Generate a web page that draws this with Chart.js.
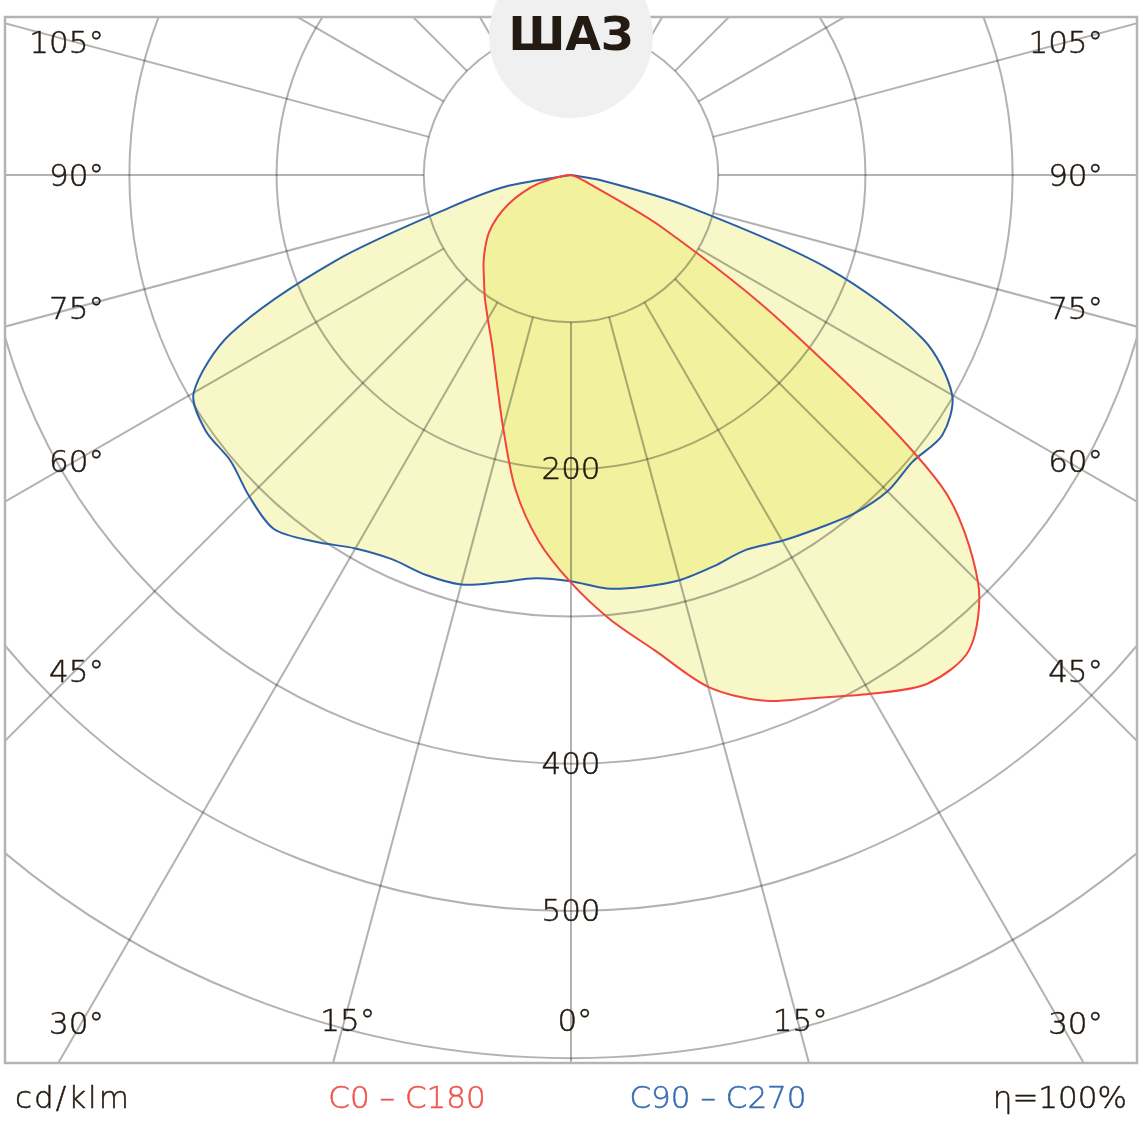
<!DOCTYPE html>
<html><head><meta charset="utf-8">
<script src="https://cdn.jsdelivr.net/npm/chart.js@4.4.1/dist/chart.umd.min.js"></script>
<style>html,body{margin:0;padding:0;background:#fff;}canvas{display:block;}</style>
</head><body>
<canvas id="c" width="1143" height="1143"></canvas>
<script>
// ---- data (gamma in degrees from nadir; negative = left half) ----
const gammaDeg = [-90,-85,-80,-75,-70,-65,-60,-55,-50,-45,-40,-35,-30,-25,-20,-15,-10,-5,0,5,10,15,20,25,30,35,40,45,50,55,60,65,70,75,80,85,90];
const c0c180  = [0,3,10,23,35,47,58,68,76,84,92,102,113,127,148,178,217,250,277,303,328,360,380,392,407,422,421,391,328,176,72,12,3,0,0,0,0];
const c90c270 = [0,0,45,85,170,255,296,303,302,309,314,304,293,288,289,288,281,275,276,282,284,285,283,281,287,293,300,304,303,308,299,264,186,80,20,0,0];
const ringValues = [100,200,300,400,500,600];
const ringLabels = ['','200','','400','500',''];
const rayAngles = [0,15,30,45,60,75,90,105,120,135,150,165,180,195,210,225,240,255,270,285,300,315,330,345];
const sideAngleLabels = [105,90,75,60,45,30];
const bottomAngleLabels = [15,0];
const titleText = 'ШАЗ';
const unitText = 'cd/klm';
const seriesNames = ['C0 – C180','C90 – C270'];
const effText = 'η=100%';

const rad = d => d*Math.PI/180;
const toXY = (g, r) => ({x: r*Math.sin(rad(g)), y: -r*Math.cos(rad(g))});
const pts = arr => gammaDeg.map((g,i) => toXY(g, arr[i]));

const FONT = '"DejaVu Sans", sans-serif';
const TXT = '#231a12';

function txt(ctx, s, x, y, color){
  ctx.fillStyle = color; ctx.strokeStyle = color; ctx.lineWidth = 0.5;
  ctx.fillText(s, x, y); ctx.strokeText(s, x, y);
}

const bgPlugin = {
  id: 'bg',
  beforeDraw(chart){ const c = chart.ctx; c.save(); c.fillStyle = '#fff'; c.fillRect(0,0,chart.width,chart.height); c.restore(); }
};

const gridPlugin = {
  id: 'polarGrid',
  beforeDatasetsDraw(chart){
    const {ctx, chartArea: a, scales:{x, y}} = chart;
    const cx = x.getPixelForValue(0), cy = y.getPixelForValue(0);
    ctx.save();
    ctx.beginPath(); ctx.rect(a.left, a.top, a.right-a.left, a.bottom-a.top); ctx.clip();
    ctx.globalCompositeOperation = 'multiply';
    ctx.strokeStyle = '#b2b2b2'; ctx.lineWidth = 2;
    ringValues.forEach(v => { ctx.beginPath(); ctx.arc(cx, cy, Math.abs(x.getPixelForValue(v)-cx), 0, 2*Math.PI); ctx.stroke(); });
    const r0 = ringValues[0], r1 = 800;
    rayAngles.forEach(g => {
      const p0 = toXY(g, r0), p1 = toXY(g, r1);
      ctx.beginPath();
      ctx.moveTo(x.getPixelForValue(p0.x), y.getPixelForValue(p0.y));
      ctx.lineTo(x.getPixelForValue(p1.x), y.getPixelForValue(p1.y));
      ctx.stroke();
    });
    ctx.restore();
  },
  afterDraw(chart){
    const {ctx, chartArea: a, scales:{x, y}} = chart;
    const cx = x.getPixelForValue(0), cy = y.getPixelForValue(0);
    ctx.save();
    // frame
    ctx.strokeStyle = '#b4b4b4'; ctx.lineWidth = 2.5;
    ctx.strokeRect(a.left, a.top, a.right-a.left, a.bottom-a.top);
    // ring labels
    ctx.font = '200 31px ' + FONT; ctx.textAlign = 'center'; ctx.textBaseline = 'middle';
    ringValues.forEach((v,i) => { if (ringLabels[i]) txt(ctx, ringLabels[i], cx, y.getPixelForValue(-v) + 2, TXT); });
    // side angle labels
    const colX = 337, bottomY = -576;
    sideAngleLabels.forEach(g => {
      let yy = -colX / Math.tan(rad(g));
      if (yy < bottomY) yy = bottomY;
      const py = y.getPixelForValue(yy) + 3;
      ctx.textAlign = 'right';
      txt(ctx, g + '°', x.getPixelForValue(-colX) + 29, py, TXT);
      txt(ctx, g + '°', x.getPixelForValue(colX) + 36, py, TXT);
    });
    ctx.textAlign = 'center';
    bottomAngleLabels.forEach(g => {
      const xx = Math.tan(rad(g)) * -bottomY;
      const py = y.getPixelForValue(bottomY);
      txt(ctx, g + '°', x.getPixelForValue(-xx) + 4, py, TXT);
      if (g !== 0) txt(ctx, g + '°', x.getPixelForValue(xx) + 2, py, TXT);
    });
    // title bubble
    ctx.fillStyle = '#f0f0f0';
    ctx.beginPath(); ctx.arc(cx, 36, 82, 0, 2*Math.PI); ctx.fill();
    ctx.fillStyle = TXT; ctx.font = 'bold 46px ' + FONT; ctx.textAlign = 'center'; ctx.textBaseline = 'alphabetic';
    ctx.fillText(titleText, cx, 50);
    // legend row
    ctx.font = '200 31px ' + FONT; ctx.textBaseline = 'middle';
    const ly = 1100;
    ctx.textAlign = 'left';
    ctx.letterSpacing = '2px';
    txt(ctx, unitText, 15, ly, TXT);
    ctx.letterSpacing = '0px';
    ctx.textAlign = 'center';
    txt(ctx, seriesNames[0], 407, ly, '#f0554f');
    txt(ctx, seriesNames[1], 718, ly, '#3a6db5');
    ctx.textAlign = 'right';
    txt(ctx, effText, 1127, ly, TXT);
    ctx.restore();
  }
};

const fillCol = 'rgba(228,226,55,0.28)';
new Chart(document.getElementById('c'), {
  type: 'scatter',
  data: { datasets: [
    { label: seriesNames[0], data: pts(c0c180), showLine: true, borderColor: '#f2443b', borderWidth: 2, backgroundColor: fillCol, fill: 'shape', pointRadius: 0, tension: 0.3 },
    { label: seriesNames[1], data: pts(c90c270), showLine: true, borderColor: '#2a5fa8', borderWidth: 2, backgroundColor: fillCol, fill: 'shape', pointRadius: 0, tension: 0.3 }
  ]},
  options: {
    responsive: false, animation: false, events: [],
    layout: { padding: { left: 5, right: 6, top: 17, bottom: 80 } },
    scales: {
      x: { type: 'linear', min: -384.5, max: 384.5, display: false },
      y: { type: 'linear', min: -603.3, max: 107.3, display: false }
    },
    plugins: { legend: { display: false }, tooltip: { enabled: false }, filler: { drawTime: 'beforeDatasetsDraw' } }
  },
  plugins: [bgPlugin, gridPlugin]
});
</script>
</body></html>
